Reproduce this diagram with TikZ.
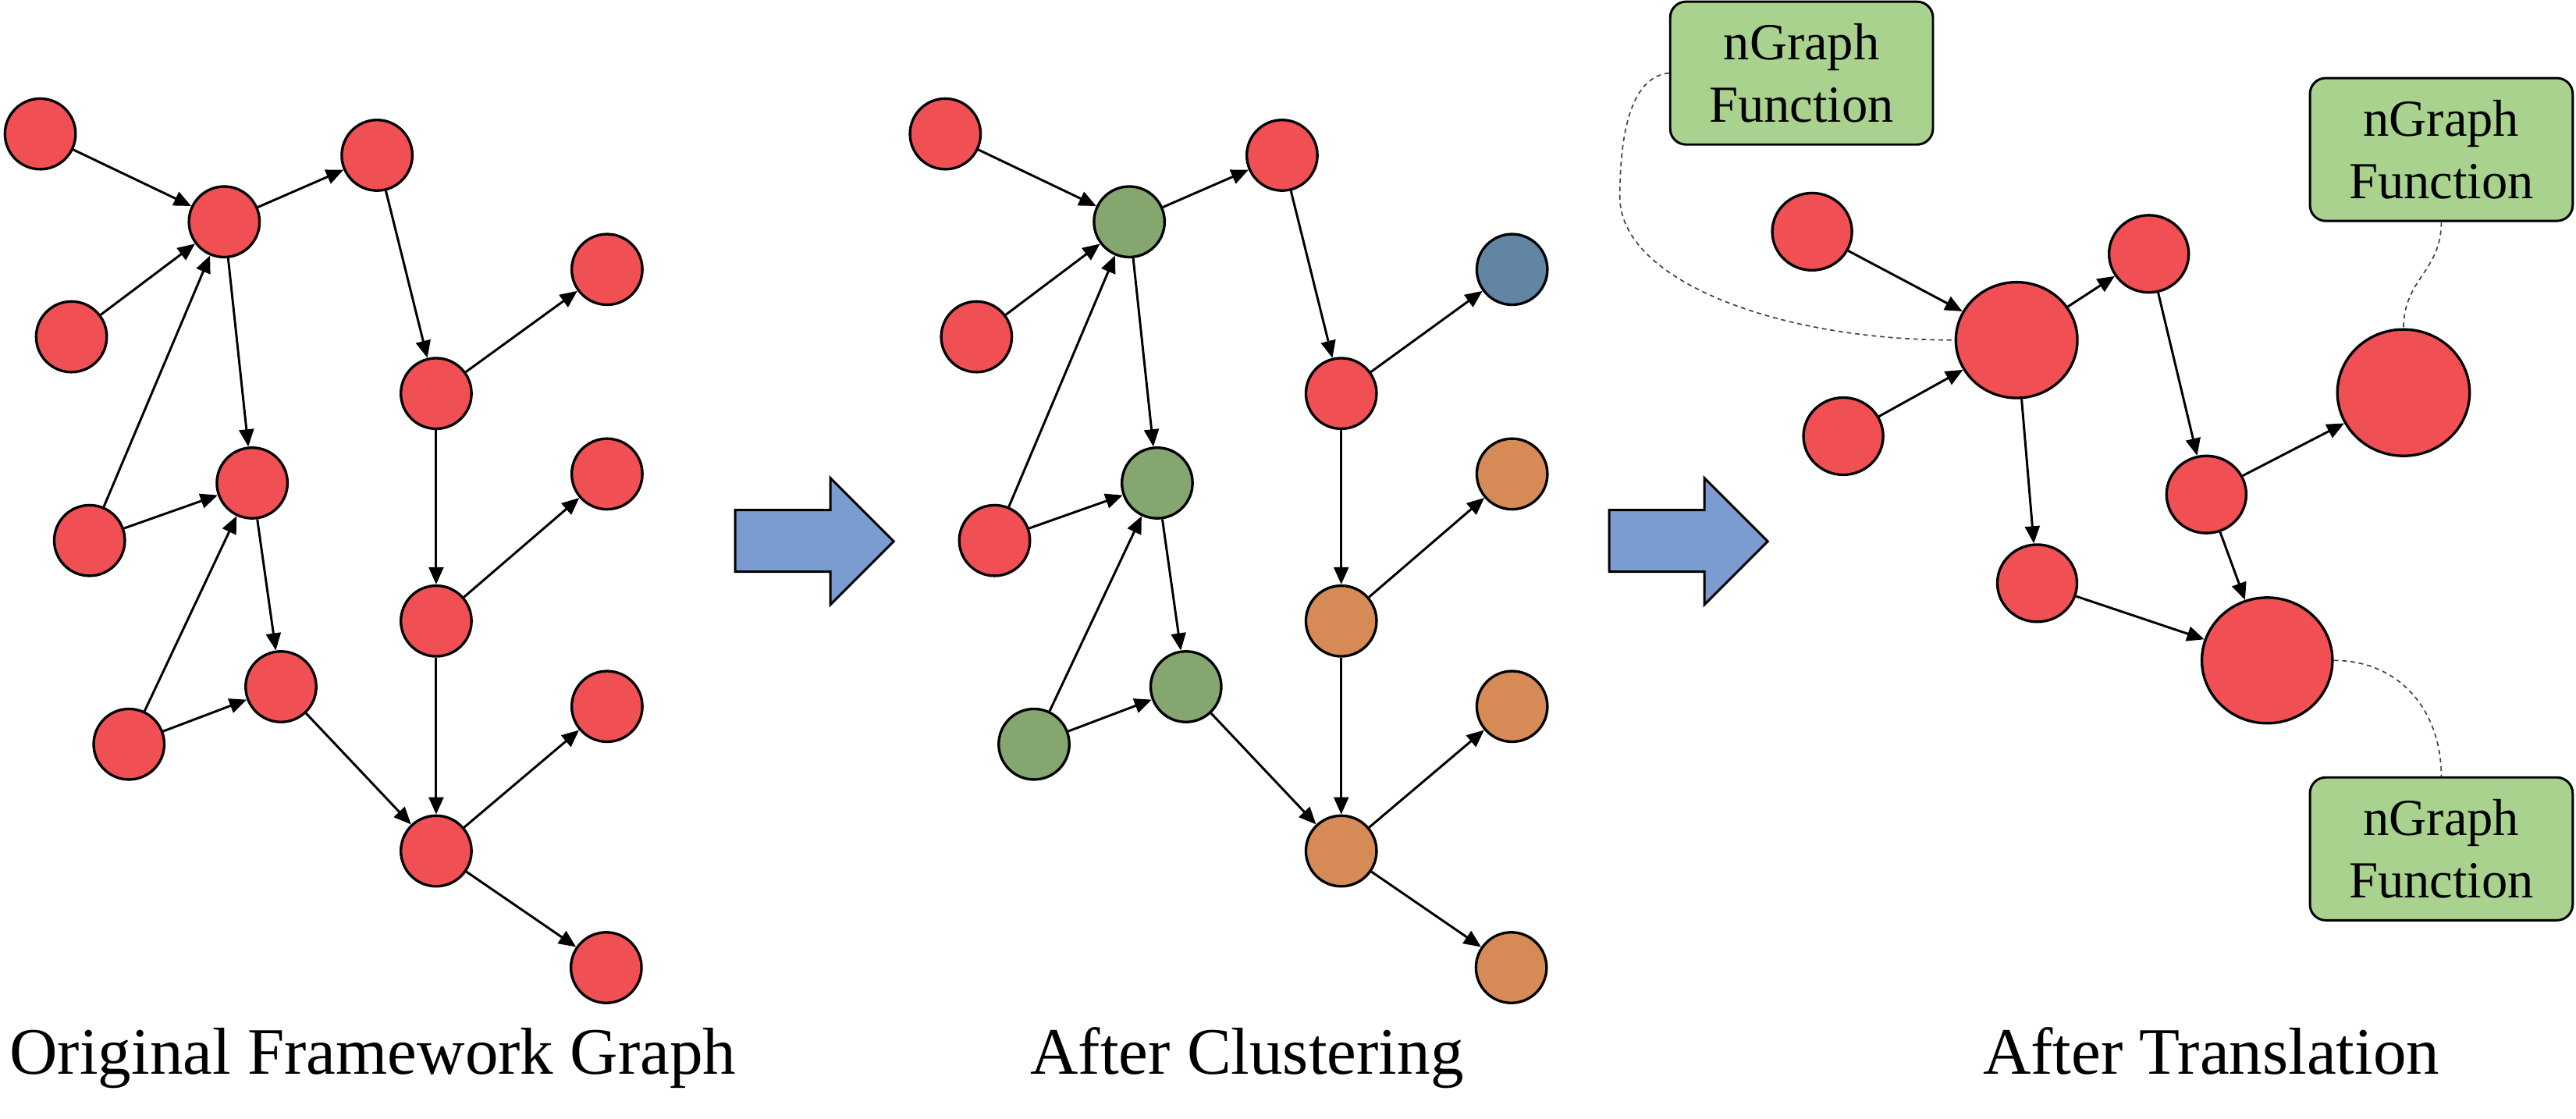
\documentclass[tikz,border=0pt]{standalone}
\usepackage{fontspec}
\setmainfont{Liberation Serif}
\newfontfamily\capfont{Liberation Serif}
\usepackage{tikz}
\usetikzlibrary{arrows.meta,shapes.geometric}
\definecolor{nred}{RGB}{240,80,84}
\definecolor{ngreen}{RGB}{133,166,110}
\definecolor{nblue}{RGB}{97,133,163}
\definecolor{norange}{RGB}{214,139,86}
\definecolor{ablue}{RGB}{123,156,208}
\definecolor{fgreen}{RGB}{169,210,143}

\begin{document}
\begin{tikzpicture}[x=0.02cm, y=-0.02cm,
  nd/.style={circle, draw, line width=0.9pt, minimum size=0.86cm, inner sep=0pt, fill=nred},
  rn/.style={ellipse, draw, line width=0.9pt, inner sep=0pt, fill=nred, minimum width=0.97cm, minimum height=0.94cm},
  arr/.style={-{Triangle[length=2.1mm, width=1.8mm]}, line width=0.8pt},
  fn/.style={draw, rounded corners=5.5pt, fill=fgreen, line width=0.8pt, minimum width=3.2cm, minimum height=1.74cm, align=center, font=\capfont\fontsize{18}{21.6}\selectfont},
  dsh/.style={line width=0.45pt, dash pattern=on 1.6pt off 1.3pt, black!75},
  big/.style={draw, line width=0.8pt, fill=ablue},
  ttl/.style={anchor=base, font=\capfont\fontsize{23}{27}\selectfont}]
  \useasboundingbox (0,0) rectangle (1568,681);

  % original graph
  \node[nd] (l1) at (24.5,81.5) {};
  \node[nd] (l2) at (136.5,135) {};
  \node[nd] (l3) at (229.5,94.5) {};
  \node[nd] (l4) at (43.5,205) {};
  \node[nd] (l5) at (369.5,164) {};
  \node[nd] (l6) at (265.5,239.5) {};
  \node[nd] (l7) at (153.5,294) {};
  \node[nd] (l8) at (369.5,288.5) {};
  \node[nd] (l9) at (54.5,329) {};
  \node[nd] (l10) at (265.5,378) {};
  \node[nd] (l11) at (171,418) {};
  \node[nd] (l12) at (78.5,453) {};
  \node[nd] (l13) at (369.5,430) {};
  \node[nd] (l14) at (265.5,518) {};
  \node[nd] (l15) at (369,589) {};
  \draw[arr] (l1) -- (l2); \draw[arr] (l4) -- (l2); \draw[arr] (l9) -- (l2); \draw[arr] (l2) -- (l3);
  \draw[arr] (l2) -- (l7); \draw[arr] (l3) -- (l6); \draw[arr] (l6) -- (l5); \draw[arr] (l6) -- (l10);
  \draw[arr] (l10) -- (l8); \draw[arr] (l9) -- (l7); \draw[arr] (l12) -- (l7); \draw[arr] (l7) -- (l11);
  \draw[arr] (l12) -- (l11); \draw[arr] (l11) -- (l14); \draw[arr] (l10) -- (l14);
  \draw[arr] (l14) -- (l13); \draw[arr] (l14) -- (l15);
  \node[ttl] (t1) at (227,653.7) {Original Framework Graph};

  \draw[big] (447.5,310.5) -- (505.5,310.5) -- (505.5,291) -- (544,329.5) -- (505.5,368) -- (505.5,348) -- (447.5,348) -- cycle;

  % clustered graph
  \begin{scope}[xshift=11.02cm]
  \node[nd] (m1) at (24.5,81.5) {};
  \node[nd, fill=ngreen] (m2) at (136.5,135) {};
  \node[nd] (m3) at (229.5,94.5) {};
  \node[nd] (m4) at (43.5,205) {};
  \node[nd, fill=nblue] (m5) at (369.5,164) {};
  \node[nd] (m6) at (265.5,239.5) {};
  \node[nd, fill=ngreen] (m7) at (153.5,294) {};
  \node[nd, fill=norange] (m8) at (369.5,288.5) {};
  \node[nd] (m9) at (54.5,329) {};
  \node[nd, fill=norange] (m10) at (265.5,378) {};
  \node[nd, fill=ngreen] (m11) at (171,418) {};
  \node[nd, fill=ngreen] (m12) at (78.5,453) {};
  \node[nd, fill=norange] (m13) at (369.5,430) {};
  \node[nd, fill=norange] (m14) at (265.5,518) {};
  \node[nd, fill=norange] (m15) at (369,589) {};
  \end{scope}
  \draw[arr] (m1) -- (m2); \draw[arr] (m4) -- (m2); \draw[arr] (m9) -- (m2); \draw[arr] (m2) -- (m3);
  \draw[arr] (m2) -- (m7); \draw[arr] (m3) -- (m6); \draw[arr] (m6) -- (m5); \draw[arr] (m6) -- (m10);
  \draw[arr] (m10) -- (m8); \draw[arr] (m9) -- (m7); \draw[arr] (m12) -- (m7); \draw[arr] (m7) -- (m11);
  \draw[arr] (m12) -- (m11); \draw[arr] (m11) -- (m14); \draw[arr] (m10) -- (m14);
  \draw[arr] (m14) -- (m13); \draw[arr] (m14) -- (m15);
  \node[ttl] (t2) at (759,653.7) {After Clustering};

  \draw[big] (979.5,310.5) -- (1037.5,310.5) -- (1037.5,291) -- (1076,329.5) -- (1037.5,368) -- (1037.5,348) -- (979.5,348) -- cycle;

  % translated graph
  \node[rn] (r1) at (1103,141) {};
  \node[rn, minimum width=1.48cm, minimum height=1.41cm] (r2) at (1227.5,207) {};
  \node[rn] (r3) at (1122,265.5) {};
  \node[rn] (r4) at (1308,154.5) {};
  \node[rn, minimum width=1.61cm, minimum height=1.54cm] (r5) at (1463,239) {};
  \node[rn] (r6) at (1343,301) {};
  \node[rn] (r7) at (1240,355) {};
  \node[rn, minimum width=1.59cm, minimum height=1.53cm] (r8) at (1380,402) {};
  \draw[arr] (r1) -- (r2); \draw[arr] (r3) -- (r2); \draw[arr] (r2) -- (r4); \draw[arr] (r2) -- (r7);
  \draw[arr] (r4) -- (r6); \draw[arr] (r6) -- (r5); \draw[arr] (r6) -- (r8); \draw[arr] (r7) -- (r8);
  \node[ttl] (t3) at (1346,653.7) {After Translation};

  \node[fn] (f1) at (1096.6,44.5) {nGraph\\Function};
  \node[fn] (f2) at (1486,91) {nGraph\\Function};
  \node[fn] (f3) at (1486,516.7) {nGraph\\Function};
  \draw[dsh] (f1.west) .. controls +(-21,2) and +(0,-45) .. (986,120) .. controls +(0,50) and +(-109,0) .. (r2.west);
  \draw[dsh] (f2.south) .. controls +(0,30) and +(0,-30) .. (r5.north);
  \draw[dsh] (r8.east) .. controls +(40,0) and +(0,-40) .. (f3.north);
\end{tikzpicture}
\end{document}
